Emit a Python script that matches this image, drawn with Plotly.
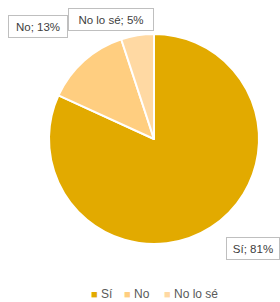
import plotly.graph_objects as go

categories = ["Sí", "No", "No lo sé"]
values = [81, 13, 5]
colors = ["#E2AA00", "#FFCE80", "#FFD9A3"]
label_texts = ["Sí; 81%", "No; 13%", "No lo sé; 5%"]

W, H = 280, 302
FONT = "Liberation Sans, Arial, sans-serif"
fig = go.Figure(go.Pie(
    labels=categories, values=values, sort=False, direction="clockwise", rotation=0,
    marker=dict(colors=colors, line=dict(color="white", width=2)),
    textinfo="none", hoverinfo="label+percent",
    domain=dict(x=[49 / W, 259 / W], y=[58 / H, 268 / H]),
))

# data-label boxes: (center x px, center y px, box text width px)
label_pos = [(253, 248, 46), (38, 26, 52), (111, 19.5, 78)]
for txt, (px, py, w) in zip(label_texts, label_pos):
    fig.add_annotation(
        x=px / W, y=1 - py / H, xref="paper", yref="paper", text=txt, showarrow=False,
        xanchor="center", yanchor="middle",
        font=dict(family=FONT, size=11.5, color="#404040"),
        width=w, height=15, align="center",
        bordercolor="#BFBFBF", borderwidth=1, borderpad=3, bgcolor="white",
    )

# legend drawn as text items with colored square markers
legend_x = [89, 122, 162]
for cat, c, lx in zip(categories, colors, legend_x):
    fig.add_annotation(
        x=lx / W, y=1 - 294 / H, xref="paper", yref="paper", showarrow=False,
        text=f'<span style="color:{c};font-size:11px">■</span> {cat}',
        font=dict(family=FONT, size=12, color="#595959"), xanchor="left", yanchor="middle",
    )

fig.update_layout(
    width=W, height=H, margin=dict(l=0, r=0, t=0, b=0),
    paper_bgcolor="white", plot_bgcolor="white",
    showlegend=False,
)
fig.write_html("out.html", config={"displayModeBar": False},
               post_script="document.body.style.margin='0';document.body.style.overflow='hidden';")
